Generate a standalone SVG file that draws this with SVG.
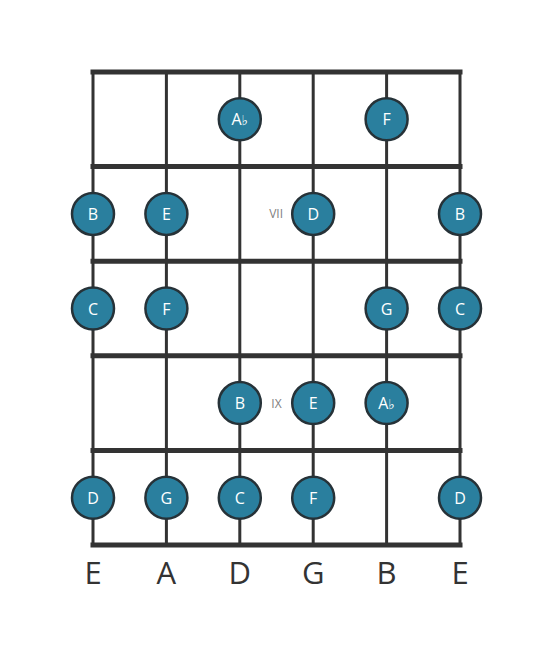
<svg xmlns="http://www.w3.org/2000/svg" width="553" height="656" viewBox="0 0 553 656">
<style>
.str{stroke:#333;stroke-width:3;fill:none}
.fret{stroke:#333;stroke-width:5;fill:none;stroke-linecap:square}
.note circle{fill:#2a7f9e;stroke:#263238;stroke-width:2.5}
.note text{fill:#fff;font-family:"Open Sans","DejaVu Sans",sans-serif;font-size:16px;text-anchor:middle;dominant-baseline:central}
.lbl{fill:#333;font-family:"Open Sans","DejaVu Sans",sans-serif;font-size:31px;text-anchor:middle}
.fn{fill:#808080;font-family:"Open Sans","DejaVu Sans",sans-serif;font-size:12px;dominant-baseline:central}
</style>
<rect width="553" height="656" fill="#fff"/>
<g id="connectors">
<line class="str" x1="93" y1="72" x2="93" y2="545"/>
<line class="str" x1="166.4" y1="72" x2="166.4" y2="545"/>
<line class="str" x1="239.8" y1="72" x2="239.8" y2="545"/>
<line class="str" x1="313.2" y1="72" x2="313.2" y2="545"/>
<line class="str" x1="386.6" y1="72" x2="386.6" y2="545"/>
<line class="str" x1="460" y1="72" x2="460" y2="545"/>
<line class="fret" x1="93" y1="72" x2="460" y2="72"/>
<line class="fret" x1="93" y1="166.6" x2="460" y2="166.6"/>
<line class="fret" x1="93" y1="261.2" x2="460" y2="261.2"/>
<line class="fret" x1="93" y1="355.8" x2="460" y2="355.8"/>
<line class="fret" x1="93" y1="450.4" x2="460" y2="450.4"/>
<line class="fret" x1="93" y1="545" x2="460" y2="545"/>
</g>
<g id="fret-numbers">
<text class="fn" x="283" y="213.5" text-anchor="end">VII</text>
<text class="fn" x="276.5" y="403" text-anchor="middle">IX</text>
</g>
<g id="n1" class="note"><circle cx="239.8" cy="119.3" r="21"/><text x="239.8" y="119.3">A<tspan font-size="14">♭</tspan></text></g>
<g id="n2" class="note"><circle cx="386.6" cy="119.3" r="21"/><text x="386.6" y="119.3">F</text></g>
<g id="n3" class="note"><circle cx="93" cy="213.9" r="21"/><text x="93" y="213.9">B</text></g>
<g id="n4" class="note"><circle cx="166.4" cy="213.9" r="21"/><text x="166.4" y="213.9">E</text></g>
<g id="n5" class="note"><circle cx="313.2" cy="213.9" r="21"/><text x="313.2" y="213.9">D</text></g>
<g id="n6" class="note"><circle cx="460" cy="213.9" r="21"/><text x="460" y="213.9">B</text></g>
<g id="n7" class="note"><circle cx="93" cy="308.5" r="21"/><text x="93" y="308.5">C</text></g>
<g id="n8" class="note"><circle cx="166.4" cy="308.5" r="21"/><text x="166.4" y="308.5">F</text></g>
<g id="n9" class="note"><circle cx="386.6" cy="308.5" r="21"/><text x="386.6" y="308.5">G</text></g>
<g id="n10" class="note"><circle cx="460" cy="308.5" r="21"/><text x="460" y="308.5">C</text></g>
<g id="n11" class="note"><circle cx="239.8" cy="403.1" r="21"/><text x="239.8" y="403.1">B</text></g>
<g id="n12" class="note"><circle cx="313.2" cy="403.1" r="21"/><text x="313.2" y="403.1">E</text></g>
<g id="n13" class="note"><circle cx="386.6" cy="403.1" r="21"/><text x="386.6" y="403.1">A<tspan font-size="14">♭</tspan></text></g>
<g id="n14" class="note"><circle cx="93" cy="497.7" r="21"/><text x="93" y="497.7">D</text></g>
<g id="n15" class="note"><circle cx="166.4" cy="497.7" r="21"/><text x="166.4" y="497.7">G</text></g>
<g id="n16" class="note"><circle cx="239.8" cy="497.7" r="21"/><text x="239.8" y="497.7">C</text></g>
<g id="n17" class="note"><circle cx="313.2" cy="497.7" r="21"/><text x="313.2" y="497.7">F</text></g>
<g id="n18" class="note"><circle cx="460" cy="497.7" r="21"/><text x="460" y="497.7">D</text></g>
<g id="string-labels">
<text class="lbl" x="93" y="584">E</text>
<text class="lbl" x="166.4" y="584">A</text>
<text class="lbl" x="239.8" y="584">D</text>
<text class="lbl" x="313.2" y="584">G</text>
<text class="lbl" x="386.6" y="584">B</text>
<text class="lbl" x="460" y="584">E</text>
</g>
</svg>
